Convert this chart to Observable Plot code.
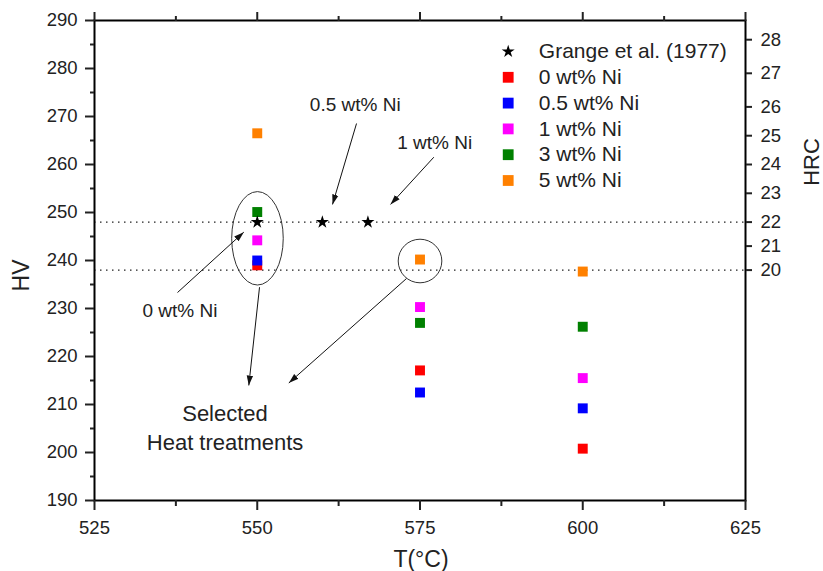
<!DOCTYPE html>
<html><head><meta charset="utf-8">
<script src="https://cdn.jsdelivr.net/npm/d3@7"></script>
<script src="https://cdn.jsdelivr.net/npm/@observablehq/plot@0.6"></script>
<style>
body{margin:0;background:#fff;}
#chart svg{display:block}
</style>
</head><body><div id="chart"></div>
<script>
// ---- data ----
const temperatures = [550, 575, 600];
const seriesNames = ["0 wt% Ni", "0.5 wt% Ni", "1 wt% Ni", "3 wt% Ni", "5 wt% Ni"];
const seriesColors = ["#ff0000", "#0000ff", "#ff00ff", "#008000", "#ff8000"];
const hvNi0  = [239.0, 217.1, 200.8];
const hvNi05 = [240.0, 212.5, 209.2];
const hvNi1  = [244.2, 230.3, 215.5];
const hvNi3  = [250.1, 227.0, 226.2];
const hvNi5  = [266.5, 240.2, 237.7];
const grangeLabel = "Grange et al. (1977)";
const grangeT  = [550, 560, 567];
const grangeHV = [248, 248, 248];
const xTicks = [525, 550, 575, 600, 625];
const xMinorTicks = [537.5, 562.5, 587.5, 612.5];
const yTicks = [190, 200, 210, 220, 230, 240, 250, 260, 270, 280, 290];
const yMinorTicks = [195, 205, 215, 225, 235, 245, 255, 265, 275, 285];
const hrcLabels = [20, 21, 22, 23, 24, 25, 26, 27, 28];
const hrcHV = [238, 243, 248, 254, 260, 266, 272, 279, 286];
const refLinesHV = [248, 238];

// annotations (data coordinates)
const annotationTexts = [
  {label: "0.5 wt% Ni", x: 565.05, y: 272.5},
  {label: "1 wt% Ni", x: 577.26, y: 264.5},
  {label: "0 wt% Ni", x: 538.13, y: 229.46}
];
const selectedText = {label: "Selected\nHeat treatments", x: 545.05, y: 205.5};
const arrows = [
  {x1: 565.25, y1: 268.54, x2: 561.56, y2: 251.67},
  {x1: 577.12, y1: 261.52, x2: 570.47, y2: 251.67},
  {x1: 537.75, y1: 233.33, x2: 547.93, y2: 245.9},
  {x1: 550.35, y1: 234.44, x2: 548.70, y2: 213.96},
  {x1: 572.93, y1: 236.25, x2: 554.85, y2: 214.48}
];
const ellipses = [
  {cx: 550.11, cy: 244.52, rx: 3.96, ry: 9.73},
  {cx: 575.08, cy: 239.79, rx: 3.35, ry: 4.54}
];

// ---- tables ----
const seriesValues = [hvNi0, hvNi05, hvNi1, hvNi3, hvNi5];
const rows = [];
seriesValues.forEach((vals, i) => vals.forEach((v, j) => rows.push({T: temperatures[j], HV: v, color: seriesColors[i]})));
const grangeRows = grangeT.map((t, i) => ({T: t, HV: grangeHV[i]}));

function filledArrow(color, context) {
  const m = d3.create("svg:marker")
    .attr("viewBox", "-10 -5 10 10")
    .attr("markerWidth", 10)
    .attr("markerHeight", 10)
    .attr("orient", "auto")
    .attr("fill", color)
    .attr("stroke", "none");
  m.append("path").attr("d", "M-10,-3.2L0,0L-10,3.2Z");
  const n = m.node();
  n.node = () => n;
  return n;
}

const font = "'Liberation Sans', Arial, Helvetica, sans-serif";
const ink = "#222";

const legendMarks = [];
const legendItems = [{name: grangeLabel, symbol: "star", color: "#000", r: 4.1}]
  .concat(seriesNames.map((n, i) => ({name: n, symbol: "square", color: seriesColors[i], r: 6.1})));
legendItems.forEach((it, i) => {
  legendMarks.push(Plot.dot([it], {frameAnchor: "top-left", dx: 413.7, dy: 31 + i * 25.8, symbol: it.symbol, r: it.r, fill: it.color}));
  legendMarks.push(Plot.text([it.name], {frameAnchor: "top-left", dx: 444.3, dy: 31 + i * 25.8, text: d => d,
    textAnchor: "start", lineAnchor: "middle", fontSize: 21, fill: ink}));
});

const chart = Plot.plot({
  width: 823, height: 571,
  marginLeft: 94, marginRight: 78, marginTop: 20, marginBottom: 71,
  x: {domain: [525, 625]},
  y: {domain: [190, 290]},
  color: {type: "identity"},
  style: {fontFamily: font, color: ink, background: "#fff", overflow: "visible"},
  marks: [
    Plot.ruleY(refLinesHV, {stroke: "#222", strokeWidth: 1.2, strokeDasharray: "1.5,4.5"}),
    Plot.dot(ellipses, {x: "cx", y: "cy", render: (index, scales) => {
      const g = d3.create("svg:g");
      for (const i of index) {
        const e = ellipses[i];
        const cx = scales.x(e.cx), cy = scales.y(e.cy);
        g.append("ellipse").attr("cx", cx).attr("cy", cy)
          .attr("rx", Math.abs(scales.x(e.cx + e.rx) - cx))
          .attr("ry", Math.abs(scales.y(e.cy + e.ry) - cy))
          .attr("fill", "none").attr("stroke", "#333").attr("stroke-width", 1);
      }
      return g.node();
    }}),
    Plot.link(arrows, {x1: "x1", y1: "y1", x2: "x2", y2: "y2", stroke: "#111", strokeWidth: 1, markerEnd: filledArrow}),
    Plot.dot(rows, {x: "T", y: "HV", symbol: "square", r: 5.6, fill: "color"}),
    Plot.dot(grangeRows, {x: "T", y: "HV", symbol: "star", r: 4.1, fill: "#000"}),
    Plot.text(annotationTexts, {x: "x", y: "y", text: "label", fontSize: 19, fill: ink}),
    Plot.text([selectedText], {x: "x", y: "y", text: "label", fontSize: 22, lineHeight: 1.3, fill: ink}),
    ...legendMarks,
    Plot.frame({stroke: "#000", strokeWidth: 2}),
    Plot.axisX({anchor: "bottom", ticks: xTicks, tickSize: 10, tickPadding: 10, fontSize: 18.5, strokeWidth: 2, label: null}),
    Plot.axisX({anchor: "bottom", ticks: xMinorTicks, tickSize: 6, strokeWidth: 2, fill: "none", label: null}),
    Plot.axisX({anchor: "top", ticks: xTicks, tickSize: 9, strokeWidth: 2, fill: "none", label: null}),
    Plot.axisX({anchor: "top", ticks: xMinorTicks, tickSize: 5, strokeWidth: 2, fill: "none", label: null}),
    Plot.axisY({anchor: "left", ticks: yTicks, tickSize: 9, tickPadding: 8, fontSize: 18.5, strokeWidth: 2, label: null}),
    Plot.axisY({anchor: "left", ticks: yMinorTicks, tickSize: 4, strokeWidth: 2, fill: "none", label: null}),
    Plot.axisY({anchor: "right", ticks: hrcHV, tickSize: 6, tickPadding: 9, fontSize: 18.5, strokeWidth: 2, label: null,
      tickFormat: v => String(hrcLabels[hrcHV.indexOf(v)])}),
    Plot.text(["HV"], {frameAnchor: "top-left", dx: -73, dy: 255, rotate: -90, text: d => d,
      textAnchor: "middle", lineAnchor: "middle", fontSize: 23, fill: ink}),
    Plot.text(["HRC"], {frameAnchor: "top-left", dx: 717, dy: 141.5, rotate: -90, text: d => d,
      textAnchor: "middle", lineAnchor: "middle", fontSize: 22, fill: ink}),
    Plot.text(["T(°C)"], {frameAnchor: "bottom", dx: 1, dy: 59, text: d => d,
      textAnchor: "middle", lineAnchor: "middle", fontSize: 23, fill: ink})
  ]
});
document.getElementById("chart").appendChild(chart);
</script>
</body></html>
